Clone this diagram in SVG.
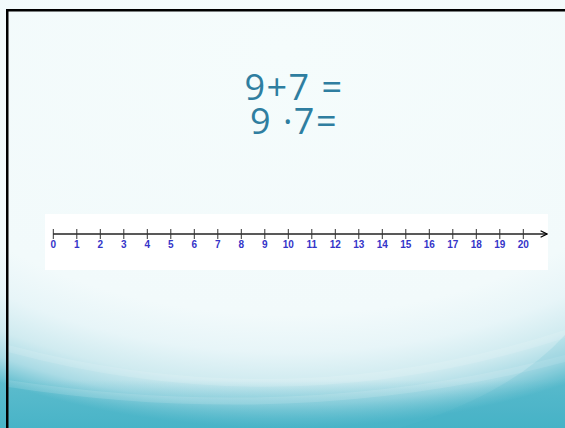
<svg xmlns="http://www.w3.org/2000/svg" width="565" height="428" viewBox="0 0 565 428">
<defs>
<radialGradient id="bg" gradientUnits="userSpaceOnUse" cx="285" cy="50" r="378" fx="285" fy="50" gradientTransform="translate(285 50) scale(1.59 1) translate(-285 -50)">
<stop offset="0" stop-color="#f5fcfc"/>
<stop offset="0.7" stop-color="#f2fafb"/>
<stop offset="0.8" stop-color="#e7f5f8"/>
<stop offset="0.88" stop-color="#d0ebf0"/>
<stop offset="0.94" stop-color="#aadbe5"/>
<stop offset="1" stop-color="#5dbccd"/>
</radialGradient>
<linearGradient id="bot" x1="0" y1="0" x2="0" y2="1">
<stop offset="0" stop-color="#3fb0c5" stop-opacity="0"/>
<stop offset="1" stop-color="#3fb0c5" stop-opacity="0.7"/>
</linearGradient>
<marker id="arr" viewBox="0 0 10 10" refX="9" refY="5" markerWidth="8" markerHeight="8" markerUnits="userSpaceOnUse" orient="auto">
<path d="M1,1 L9,5 L1,9" fill="none" stroke="#000" stroke-width="1.6"/>
</marker>
<style>
.eq{font-family:"Open Sans","Liberation Sans",sans-serif;font-size:36px;fill:#2f7ea0;text-anchor:middle;letter-spacing:1.5px}
.lbl{font-family:"Liberation Sans",Arial,sans-serif;font-size:10px;font-weight:bold;fill:#3434c8;text-anchor:middle}
.tick{stroke:#333;stroke-width:1}
</style>
</defs>
<g id="background">
<rect x="0" y="0" width="565" height="428" fill="url(#bg)"/>
<rect x="0" y="380" width="565" height="48" fill="url(#bot)"/>
<path d="M8,345 Q290,420 565,330 L565,338 Q290,428 8,352 Z" fill="#ffffff" opacity="0.12"/>
<path d="M8,380 Q300,425 565,355 L565,362 Q300,432 8,387 Z" fill="#ffffff" opacity="0.12"/>
<path d="M400,428 Q510,395 565,335 L565,428 Z" fill="#3aaec3" opacity="0.12"/>
<rect x="6" y="9" width="559" height="2.5" fill="#000"/>
<rect x="6" y="9" width="2.5" height="419" fill="#000"/>
</g>
<g id="equations">
<text class="eq" x="294" y="100">9+7 =</text>
<text class="eq" x="294" y="134">9 ·7=</text>
</g>
<g id="numberline">
<rect x="45" y="214" width="503" height="56" fill="#ffffff"/>
<line x1="53" y1="234" x2="547" y2="234" stroke="#222" stroke-width="1.5" marker-end="url(#arr)"/>
<g id="ticks">
<line class="tick" x1="53.3" y1="229" x2="53.3" y2="239"/>
<line class="tick" x1="76.8" y1="229" x2="76.8" y2="239"/>
<line class="tick" x1="100.3" y1="229" x2="100.3" y2="239"/>
<line class="tick" x1="123.8" y1="229" x2="123.8" y2="239"/>
<line class="tick" x1="147.3" y1="229" x2="147.3" y2="239"/>
<line class="tick" x1="170.8" y1="229" x2="170.8" y2="239"/>
<line class="tick" x1="194.3" y1="229" x2="194.3" y2="239"/>
<line class="tick" x1="217.8" y1="229" x2="217.8" y2="239"/>
<line class="tick" x1="241.3" y1="229" x2="241.3" y2="239"/>
<line class="tick" x1="264.8" y1="229" x2="264.8" y2="239"/>
<line class="tick" x1="288.3" y1="229" x2="288.3" y2="239"/>
<line class="tick" x1="311.8" y1="229" x2="311.8" y2="239"/>
<line class="tick" x1="335.3" y1="229" x2="335.3" y2="239"/>
<line class="tick" x1="358.8" y1="229" x2="358.8" y2="239"/>
<line class="tick" x1="382.3" y1="229" x2="382.3" y2="239"/>
<line class="tick" x1="405.8" y1="229" x2="405.8" y2="239"/>
<line class="tick" x1="429.3" y1="229" x2="429.3" y2="239"/>
<line class="tick" x1="452.8" y1="229" x2="452.8" y2="239"/>
<line class="tick" x1="476.3" y1="229" x2="476.3" y2="239"/>
<line class="tick" x1="499.8" y1="229" x2="499.8" y2="239"/>
<line class="tick" x1="523.3" y1="229" x2="523.3" y2="239"/>
</g>
<g id="labels">
<text class="lbl" x="53.3" y="248">0</text>
<text class="lbl" x="76.8" y="248">1</text>
<text class="lbl" x="100.3" y="248">2</text>
<text class="lbl" x="123.8" y="248">3</text>
<text class="lbl" x="147.3" y="248">4</text>
<text class="lbl" x="170.8" y="248">5</text>
<text class="lbl" x="194.3" y="248">6</text>
<text class="lbl" x="217.8" y="248">7</text>
<text class="lbl" x="241.3" y="248">8</text>
<text class="lbl" x="264.8" y="248">9</text>
<text class="lbl" x="288.3" y="248">10</text>
<text class="lbl" x="311.8" y="248">11</text>
<text class="lbl" x="335.3" y="248">12</text>
<text class="lbl" x="358.8" y="248">13</text>
<text class="lbl" x="382.3" y="248">14</text>
<text class="lbl" x="405.8" y="248">15</text>
<text class="lbl" x="429.3" y="248">16</text>
<text class="lbl" x="452.8" y="248">17</text>
<text class="lbl" x="476.3" y="248">18</text>
<text class="lbl" x="499.8" y="248">19</text>
<text class="lbl" x="523.3" y="248">20</text>
</g>
</g>
</svg>
